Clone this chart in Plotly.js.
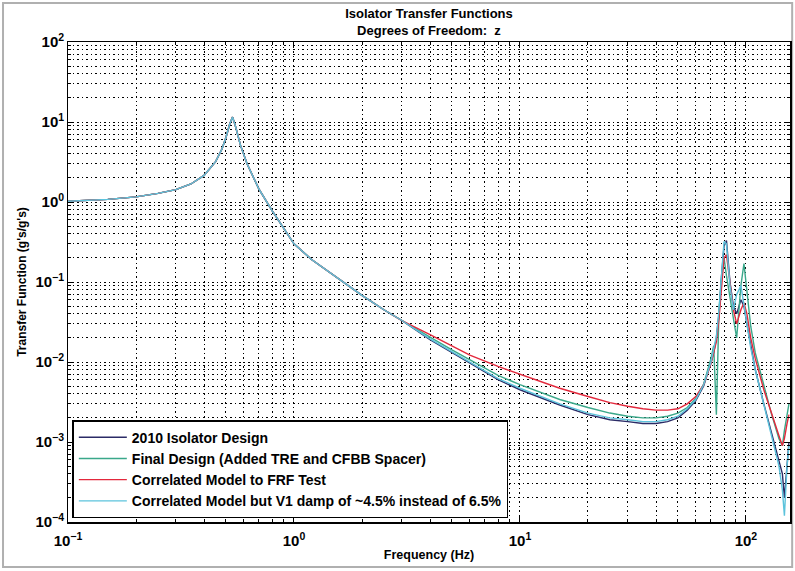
<!DOCTYPE html>
<html>
<head>
<meta charset="utf-8">
<script src="https://cdn.plot.ly/plotly-3.0.1.min.js"></script>
<style>html,body{margin:0;padding:0;background:#fff;}#chart{width:795px;height:571px;}</style>
</head>
<body>
<div id="chart"></div>
<script>
// Frequency points (Hz)
const freq = [0.1,0.15,0.2,0.25,0.3,0.35,0.4,0.45,0.48,0.5,0.52,0.535,0.55,0.58,0.62,0.7,0.8,0.9,1,1.2,1.5,2,2.5,3,
  4,5,6,8,10,15,20,25,30,35,40,45,50,55,60,65,70,72,74,76,78,80,82,85,88,91,95,98,101,105,110,120,130,140,145,148,152,155];

// Shared low-frequency part (0.1 - 3 Hz)
const lowCommon = [1.02,1.08,1.16,1.28,1.43,1.68,2.15,3.2,4.6,6.4,9.5,11.5,9,5.1,3.0,1.45,0.78,0.47,0.3,0.19,0.12,0.068,0.045,0.033];

// High-frequency part (4 - 155 Hz) per series
const design2010High = [.019,.0132,.0097,.0060,.0045,.0029,.0022,.0019,.0018,.0017,.0017,.0018,.0020,.0025,.0033,.0050,.0098,.013,.02,.04,.12,.28,.33,.1,.05,.04,.06,.05,.03,.016,.008,.003,.0013,.0006,.0004,.0002,.0006,.001];
const finalDesignHigh = [.0205,.0142,.0106,.0068,.0052,.0034,.0027,.0023,.0021,.0020,.0020,.0021,.0023,.0027,.0035,.0053,.011,.016,.0022,.045,.11,.2,.12,.06,.035,.02,.09,.17,.07,.028,.013,.005,.0022,.0011,.0009,.0014,.0022,.003];
const correlatedHigh = [.022,.0158,.0122,.0088,.0070,.0047,.0037,.0031,.0028,.0026,.0025,.0025,.0026,.0030,.0037,.0052,.0095,.013,.018,.035,.08,.2,.22,.09,.045,.03,.045,.055,.04,.02,.011,.0045,.0022,.0012,.0009,.0011,.0017,.0022];
const dampHigh = [.0195,.0135,.0100,.0062,.0047,.0030,.0023,.0020,.0019,.0018,.0018,.0019,.0021,.0026,.0034,.0052,.010,.014,.021,.045,.13,.32,.3,.09,.045,.07,.09,.05,.03,.015,.008,.003,.0012,.0005,.00025,.00012,.0005,.0009];

const seriesNames = ['2010 Isolator Design','Final Design (Added TRE and CFBB Spacer)','Correlated Model to FRF Test','Correlated Model but V1 damp of ~4.5% instead of 6.5%'];
const seriesColors = ['#2b2b66','#3aa88a','#e3283c','#5cc3dc'];
const seriesHigh = [design2010High, finalDesignHigh, correlatedHigh, dampHigh];

const traces = seriesHigh.map((hi, i) => ({
  x: freq,
  y: lowCommon.concat(hi),
  type: 'scatter',
  mode: 'lines',
  name: seriesNames[i],
  legendgroup: 'g' + i,
  line: {color: seriesColors[i], width: 1.4},
  hoverinfo: 'skip'
}));

const F = 'Liberation Sans, Arial, sans-serif';
const DOTS = '1.5px,3px';
const axisCommon = {
  type: 'log',
  showline: true, linecolor: '#000', linewidth: 1.5, mirror: 'allticks',
  ticks: 'inside', ticklen: 6, tickcolor: '#000',
  showgrid: true, gridcolor: '#000', griddash: DOTS, gridwidth: 1,
  dtick: 1, exponentformat: 'power',
  labelalias: {'1': '10<sup>0</sup>', '10': '10<sup>1</sup>'},
  tickfont: {family: F, size: 12, color: '#000', weight: 'bold'},
  minor: {dtick: 'D1', ticks: 'inside', ticklen: 3, tickcolor: '#000', showgrid: true, gridcolor: '#000', griddash: DOTS, gridwidth: 1},
  zeroline: false
};

const layout = {
  width: 795, height: 571,
  margin: {l: 68, r: 5, t: 42, b: 49},
  paper_bgcolor: '#fff', plot_bgcolor: '#fff',
  title: {
    text: 'Isolator Transfer Functions<br>Degrees of Freedom:  z',
    font: {family: F, size: 13, color: '#000', weight: 'bold'},
    xref: 'paper', x: 0.5, xanchor: 'center',
    yref: 'container', y: 0.968, yanchor: 'top'
  },
  xaxis: Object.assign({}, axisCommon, {
    range: [-1, 2.195],
    ticklabelstandoff: 5,
    title: {text: 'Frequency (Hz)', font: {family: F, size: 12.5, color: '#000', weight: 'bold'}, standoff: 2}
  }),
  yaxis: Object.assign({}, axisCommon, {
    range: [-4, 2],
    title: {text: "Transfer Function (g's/g's)", font: {family: F, size: 12, color: '#000', weight: 'bold'}, standoff: 6}
  }),
  legend: {
    x: 0.006, y: 0.008, xanchor: 'left', yanchor: 'bottom',
    bgcolor: '#fff', bordercolor: '#000', borderwidth: 1.5,
    font: {family: F, size: 14, color: '#000', weight: 'bold'},
    itemwidth: 48, tracegroupgap: 0
  },
  showlegend: true,
  shapes: [{
    type: 'rect', xref: 'paper', yref: 'paper',
    x0: -0.09, x1: 1.003, y0: -0.094, y1: 1.081,
    line: {color: '#b0b0b0', width: 2}, layer: 'below'
  }]
};

Plotly.newPlot('chart', traces, layout, {staticPlot: true, displayModeBar: false});
</script>
</body>
</html>
